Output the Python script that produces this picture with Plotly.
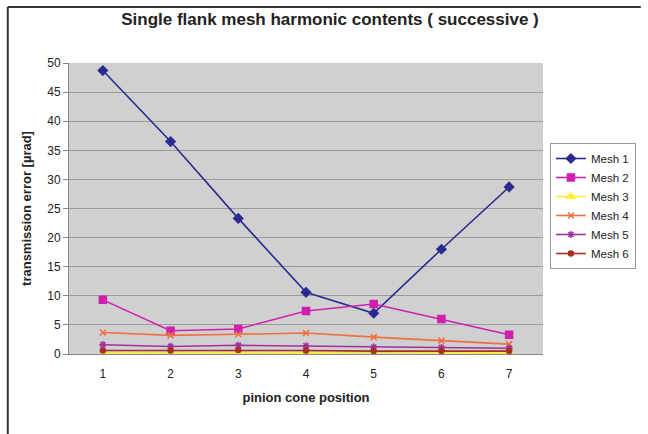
import plotly.graph_objects as go

positions = [1, 2, 3, 4, 5, 6, 7]
mesh1 = [48.7, 36.5, 23.3, 10.6, 7.0, 18.0, 28.7]
mesh2 = [9.3, 4.0, 4.3, 7.4, 8.6, 6.0, 3.3]
mesh3 = [0.1, 0.1, 0.2, 0.2, 0.05, 0.15, 0.2]
mesh4 = [3.7, 3.2, 3.4, 3.6, 2.9, 2.3, 1.7]
mesh5 = [1.6, 1.3, 1.5, 1.4, 1.2, 1.1, 1.0]
mesh6 = [0.6, 0.6, 0.7, 0.6, 0.5, 0.5, 0.5]
series_names = ["Mesh 1", "Mesh 2", "Mesh 3", "Mesh 4", "Mesh 5", "Mesh 6"]
y_ticks = [0, 5, 10, 15, 20, 25, 30, 35, 40, 45, 50]

FONT = "Liberation Sans, Arial, sans-serif"
styles = [
    ("#2A2A90", "diamond", 7),
    ("#D020B0", "square", 7),
    ("#FFEE30", "triangle-up", 7),
    ("#F07040", "x-thin-open", 6),
    ("#A030A0", "asterisk-open", 6),
    ("#A83020", "circle", 5),
]

fig = go.Figure()
for name, vals, (col, sym, sz) in zip(series_names, [mesh1, mesh2, mesh3, mesh4, mesh5, mesh6], styles):
    fig.add_trace(go.Scatter(
        x=positions, y=vals, name=name, mode="lines+markers",
        line=dict(color=col, width=1.6),
        marker=dict(color=col, symbol=sym, size=sz, line=dict(color=col, width=1.5)),
    ))

fig.update_layout(
    width=648, height=434,
    margin=dict(l=69, r=99, t=63, b=80),
    paper_bgcolor="white",
    plot_bgcolor="#D0D0D0",
    font=dict(family=FONT, size=12, color="#222"),
    title=dict(text="<b>Single flank mesh harmonic contents ( successive )</b>",
               x=330 / 648, xref="container", xanchor="center", y=1 - 19 / 434, yanchor="middle",
               font=dict(size=17, family=FONT, color="#222")),
    showlegend=True,
    legend=dict(x=(556 - 69) / 480, xanchor="left", y=(354 - 143) / 291, yanchor="top",
                bgcolor="white", bordercolor="#999", borderwidth=1,
                font=dict(size=11.5, family=FONT), tracegroupgap=0, itemwidth=30),
    xaxis=dict(range=[0.5, 7.5], tickmode="array", tickvals=positions,
               ticktext=[str(p) for p in positions],
               showgrid=False, zeroline=False, showline=True, linecolor="#888",
               ticks="outside", ticklen=9, tickcolor="rgba(0,0,0,0)",
               tickfont=dict(size=12),
               title=dict(text="<b>pinion cone position</b>", font=dict(size=13), standoff=12)),
    yaxis=dict(range=[0, 50], tickmode="array", tickvals=y_ticks,
               showgrid=True, gridcolor="#9A9A9A", gridwidth=1, zeroline=False,
               showline=True, linecolor="#888", ticks="outside", ticklen=5, tickcolor="#888",
               tickfont=dict(size=12),
               title=dict(text="<b>transmission error [µrad]</b>", font=dict(size=13), standoff=12)),
    shapes=[
        dict(type="line", xref="paper", yref="paper",
             x0=(7 - 69) / 480, x1=(648 - 69) / 480, y0=(354 - 7) / 291, y1=(354 - 7) / 291,
             line=dict(color="#333", width=2)),
        dict(type="line", xref="paper", yref="paper",
             x0=(7 - 69) / 480, x1=(7 - 69) / 480, y0=(354 - 7) / 291, y1=(354 - 434) / 291,
             line=dict(color="#333", width=2)),
    ],
)

fig.write_html("out.html", config={"displayModeBar": False},
               post_script="document.body.style.margin='0';")
